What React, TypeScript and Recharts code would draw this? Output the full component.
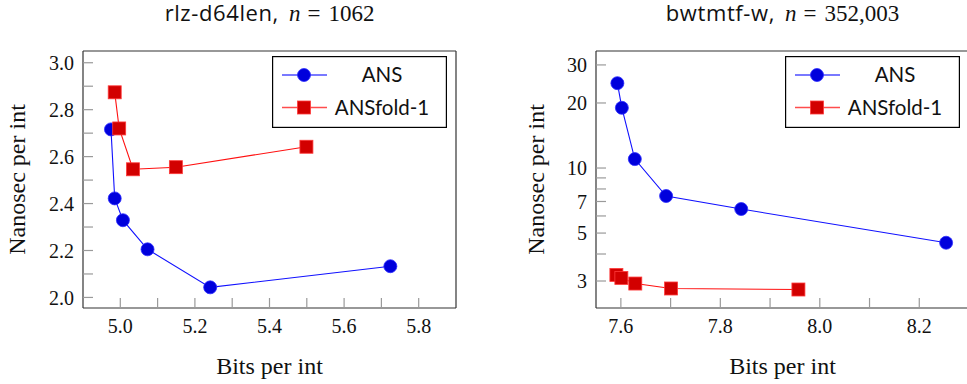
import React from 'react';
import { ScatterChart, Scatter, XAxis, YAxis, Legend } from 'recharts';

// left panel: rlz-d64len
const leftAnsBits = [4.975, 4.985, 5.007, 5.073, 5.241, 5.724];
const leftAnsNs = [2.716, 2.422, 2.329, 2.205, 2.043, 2.133];
const leftFoldBits = [4.985, 4.997, 5.034, 5.149, 5.499];
const leftFoldNs = [2.874, 2.72, 2.546, 2.555, 2.642];
const leftTicksX = [5.0, 5.1, 5.2, 5.3, 5.4, 5.5, 5.6, 5.7, 5.8];
const leftLabelsX = ['5.0', '5.2', '5.4', '5.6', '5.8'];
const leftTicksY = [2.0, 2.1, 2.2, 2.3, 2.4, 2.5, 2.6, 2.7, 2.8, 2.9, 3.0];
const leftLabelsY = ['2.0', '2.2', '2.4', '2.6', '2.8', '3.0'];

// right panel: bwtmtf-w
const rightAnsBits = [7.593, 7.602, 7.628, 7.691, 7.842, 8.254];
const rightAnsNs = [24.7, 19.0, 11.0, 7.42, 6.46, 4.51];
const rightFoldBits = [7.591, 7.601, 7.629, 7.701, 7.957];
const rightFoldNs = [3.2, 3.1, 2.92, 2.77, 2.74];
const rightTicksX = [7.6, 7.7, 7.8, 7.9, 8.0, 8.1, 8.2];
const rightLabelsX = ['7.6', '7.8', '8.0', '8.2'];
const rightTicksY = [3, 4, 5, 6, 7, 8, 9, 10, 20, 30];
const rightLabelsY = ['3', '5', '7', '10', '20', '30'];

const seriesNames = ['ANS', 'ANSfold-1'];

const zip = (xs: number[], ys: number[]) => xs.map((x, i) => ({ x, y: ys[i] }));

const BLUE = '#0000dc';
const RED = '#d20000';
const SERIF = '"Liberation Serif", "DejaVu Serif", serif';
const SANS = 'Lato, "Open Sans", sans-serif';
const TITLE_SANS = '"Open Sans", Lato, sans-serif';
const TICK_COLOR = '#9a9a9a';

const Circle = (props: any) => {
  const { cx, cy } = props;
  if (cx == null || cy == null) return null;
  return <circle cx={cx} cy={cy} r={6.5} fill={BLUE} stroke="#2b2bff" strokeWidth={0.8} />;
};

const Square = (props: any) => {
  const { cx, cy } = props;
  if (cx == null || cy == null) return null;
  return <rect x={cx - 6.5} y={cy - 6.5} width={13} height={13} fill={RED} stroke="#ff3a3a" strokeWidth={0.8} />;
};

const pick = (labels: string[], digits: number) => (v: number) => {
  const s = digits > 0 ? v.toFixed(digits) : String(Math.round(v));
  return labels.includes(s) ? s : '';
};

const Title = (props: any) => {
  const { viewBox, name, n } = props;
  const cx = viewBox.x + viewBox.width / 2;
  return (
    <text x={cx} y={20.5} textAnchor="middle" fill="#111">
      <tspan fontFamily={TITLE_SANS} fontSize={22} letterSpacing={0.6}>{name},</tspan>
      <tspan dx={10} fontFamily={SERIF} fontSize={23} fontStyle="italic">n</tspan>
      <tspan dx={7} fontFamily={SERIF} fontSize={23}>=</tspan>
      <tspan dx={8} fontFamily={SERIF} fontSize={23}>{n}</tspan>
    </text>
  );
};

const YTitle = (props: any) => {
  const { viewBox, bx } = props;
  const cy = viewBox.y + viewBox.height / 2;
  return (
    <text transform={`translate(${bx},${cy}) rotate(-90)`} textAnchor="middle" fontFamily={SERIF} fontSize={24} fill="#111">
      Nanosec per int
    </text>
  );
};

const XTitle = (props: any) => {
  const { viewBox } = props;
  const cx = viewBox.x + viewBox.width / 2;
  return (
    <text x={cx} y={374} textAnchor="middle" fontFamily={SERIF} fontSize={24} fill="#111">
      Bits per int
    </text>
  );
};

const LegendBox = () => (
  <svg width={175} height={72} style={{ display: 'block' }}>
    <rect x={0.6} y={0.6} width={173.8} height={70.8} fill="#fff" stroke="#000" strokeWidth={1.2} />
    {seriesNames.map((name, i) => {
      const cy = 19 + i * 32.5;
      const color = i === 0 ? '#4d4dff' : '#ff4d4d';
      return (
        <g key={name}>
          <line x1={10} x2={55} y1={cy} y2={cy} stroke={color} strokeWidth={1.3} />
          {i === 0 ? <Circle cx={32} cy={cy} /> : <Square cx={32} cy={cy} />}
          <text x={110} y={cy} dy="0.35em" textAnchor="middle" fontFamily={SANS} fontSize={20.5} fill="#111">
            {name}
          </text>
        </g>
      );
    })}
  </svg>
);

const axisLine = { stroke: '#333', strokeWidth: 1.2 };
const tickLine = { stroke: TICK_COLOR, strokeWidth: 1.2 };
const tickText = { fill: '#111', fontSize: 20, fontFamily: SERIF };

interface PanelProps {
  name: string;
  n: string;
  ans: { x: number; y: number }[];
  fold: { x: number; y: number }[];
  xDomain: [number, number];
  yDomain: [number, number];
  xTicks: number[];
  xLabels: string[];
  yTicks: number[];
  yLabels: string[];
  yDigits: number;
  log?: boolean;
  width: number;
  yWidth: number;
  right: number;
  yTitleX: number;
  legendLeft: number;
}

const Panel = (p: PanelProps) => (
  <ScatterChart width={p.width} height={384} margin={{ top: 50, right: p.right - 1, bottom: 0, left: 0 }}>
    <XAxis
      xAxisId="b"
      type="number"
      dataKey="x"
      domain={p.xDomain}
      allowDataOverflow
      ticks={p.xTicks}
      interval={0}
      tickFormatter={pick(p.xLabels, 1)}
      height={76}
      tickSize={-10}
      tickMargin={21}
      axisLine={axisLine}
      tickLine={tickLine}
      tick={tickText}
      label={<XTitle />}
    />
    <XAxis
      xAxisId="t"
      orientation="top"
      type="number"
      domain={p.xDomain}
      allowDataOverflow
      ticks={p.xTicks}
      interval={0}
      height={1}
      tickSize={-10}
      tick={false}
      axisLine={axisLine}
      tickLine={tickLine}
      label={<Title name={p.name} n={p.n} />}
    />
    <YAxis
      yAxisId="l"
      type="number"
      dataKey="y"
      scale={p.log ? 'log' : 'auto'}
      domain={p.yDomain}
      allowDataOverflow
      ticks={p.yTicks}
      interval={0}
      tickFormatter={pick(p.yLabels, p.yDigits)}
      width={p.yWidth}
      tickSize={-10}
      tickMargin={19}
      axisLine={axisLine}
      tickLine={tickLine}
      tick={tickText}
      label={<YTitle bx={p.yTitleX} />}
    />
    <YAxis
      yAxisId="r"
      orientation="right"
      type="number"
      scale={p.log ? 'log' : 'auto'}
      domain={p.yDomain}
      allowDataOverflow
      ticks={p.yTicks}
      interval={0}
      width={1}
      tickSize={-10}
      tick={false}
      axisLine={axisLine}
      tickLine={tickLine}
    />
    <Legend
      layout="horizontal"
      verticalAlign="middle"
      align="center"
      content={() => <LegendBox />}
      wrapperStyle={{ position: 'absolute', left: p.legendLeft, top: 56, width: 175, height: 72 }}
    />
    <Scatter
      name={seriesNames[0]}
      data={p.ans}
      xAxisId="b"
      yAxisId="l"
      shape={Circle}
      line={{ stroke: '#1010ff', strokeWidth: 1.1 }}
      isAnimationActive={false}
    />
    <Scatter
      name={seriesNames[1]}
      data={p.fold}
      xAxisId="b"
      yAxisId="l"
      shape={Square}
      line={{ stroke: '#ff1010', strokeWidth: 1.1 }}
      isAnimationActive={false}
    />
  </ScatterChart>
);

export default function App() {
  return (
    <div style={{ position: 'absolute', left: 0, top: 0, width: 967, height: 384, overflow: 'hidden', background: '#fff' }}>
      <div style={{ position: 'absolute', left: 0, top: 0 }}>
        <Panel
          name="rlz-d64len"
          n="1062"
          ans={zip(leftAnsBits, leftAnsNs)}
          fold={zip(leftFoldBits, leftFoldNs)}
          xDomain={[4.9, 5.9]}
          yDomain={[1.955, 3.05]}
          xTicks={leftTicksX}
          xLabels={leftLabelsX}
          yTicks={leftTicksY}
          yLabels={leftLabelsY}
          yDigits={1}
          width={480}
          yWidth={83}
          right={24}
          yTitleX={25}
          legendLeft={272}
        />
      </div>
      <div style={{ position: 'absolute', left: 480, top: 0 }}>
        <Panel
          name="bwtmtf-w"
          n="352,003"
          ans={zip(rightAnsBits, rightAnsNs)}
          fold={zip(rightFoldBits, rightFoldNs)}
          xDomain={[7.55, 8.3]}
          yDomain={[2.25, 34.8]}
          xTicks={rightTicksX}
          xLabels={rightLabelsX}
          yTicks={rightTicksY}
          yLabels={rightLabelsY}
          yDigits={0}
          log
          width={500}
          yWidth={116}
          right={11}
          yTitleX={64}
          legendLeft={305}
        />
      </div>
    </div>
  );
}
